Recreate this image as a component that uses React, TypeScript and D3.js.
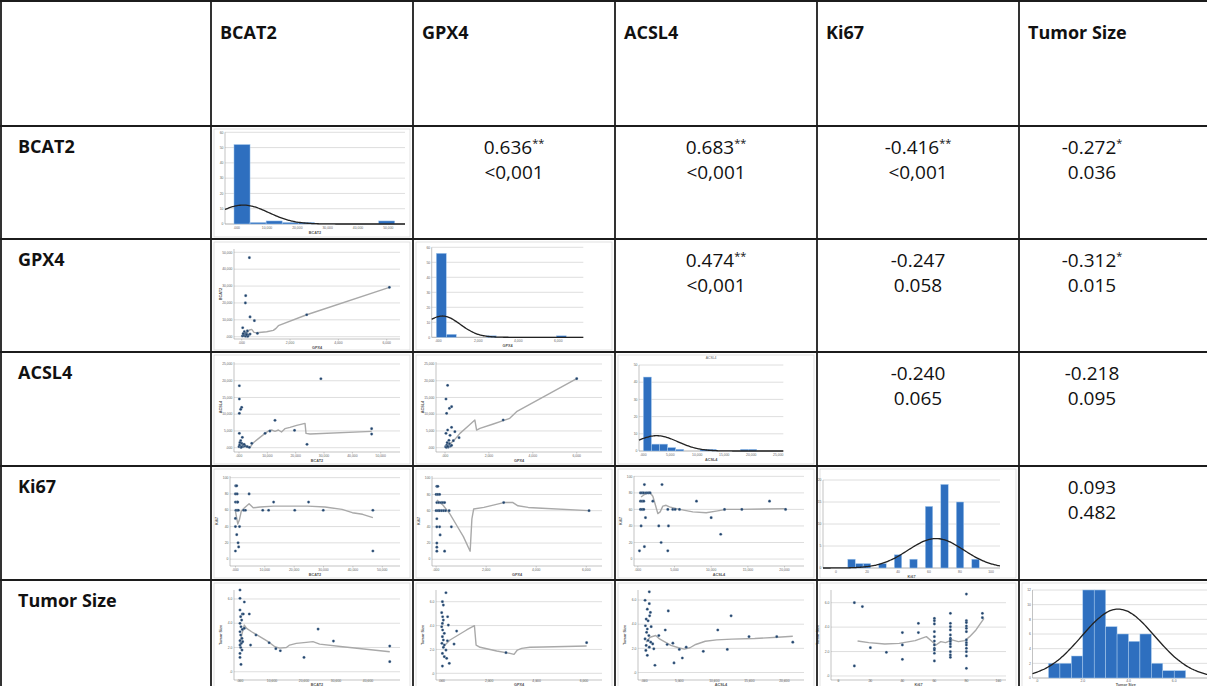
import React from "react";
import * as d3 from "d3";

type Pt = [number, number];

const W = 1207;
const H = 686;

// table grid
const colX = [1, 211, 413, 615, 817, 1019, 1221];
const rowY = [1, 126, 239, 352, 466, 580, 693];
const textCenterX = [106, 312, 514, 716, 918, 1092];

const variables = ["BCAT2", "GPX4", "ACSL4", "Ki67", "Tumor Size"];

// upper triangle: correlation coefficient and p value
const corrPairs: Pt[] = [[0, 1], [0, 2], [0, 3], [0, 4], [1, 2], [1, 3], [1, 4], [2, 3], [2, 4], [3, 4]];
const corrR = ["0.636", "0.683", "-0.416", "-0.272", "0.474", "-0.247", "-0.312", "-0.240", "-0.218", "0.093"];
const corrStars = ["**", "**", "**", "*", "**", "", "*", "", "", ""];
const corrP = ["<0,001", "<0,001", "<0,001", "0.036", "<0,001", "0.058", "0.015", "0.065", "0.095", "0.482"];

// ---- diagonal histograms ----
const bcat2Edges = [-900, 4400, 9700, 15000, 20300, 25600, 30900, 36200, 41500, 46800, 52100];
const bcat2Counts = [52, 1, 2, 1, 1, 0, 0, 0, 0, 2];
const bcat2Fit = { mean: 2200, sd: 8300, peak: 12.4 };

const gpx4Edges = [-100, 400, 900, 1400, 1900, 2400, 2900, 3400, 3900, 4400, 4900, 5400, 5900, 6400];
const gpx4Counts = [56, 2, 0, 0, 0, 1, 0, 0, 0, 0, 0, 0, 1];
const gpx4Fit = { mean: 200, sd: 900, peak: 14.2 };

const acsl4Edges = [0, 1500, 3000, 4500, 6000, 7500, 9000, 10500, 12000, 13500, 15000, 16500, 18000, 19500, 21000];
const acsl4Counts = [43, 4, 4, 2, 1, 0, 0, 1, 1, 0, 0, 0, 1, 1];
const acsl4Fit = { mean: 2470, sd: 3930, peak: 8.9 };

const ki67Values = [10, 15, 20, 30, 40, 50, 60, 70, 80, 90];
const ki67Counts = [2, 1, 1, 1, 3, 2, 14, 19, 15, 2];
const ki67Fit = { mean: 64.5, sd: 18, peak: 6.7 };

const tumorEdges = [0.5, 1, 1.5, 2, 2.5, 3, 3.5, 4, 4.5, 5, 5.5, 6, 6.5];
const tumorCounts = [2, 2, 3, 12, 12, 7, 6, 5, 6, 2, 1, 1];
const tumorFit = { mean: 3.55, sd: 1.6, peak: 9.4 };

// ---- scatter plots: [x, y] ----
const gpx4Bcat2Pts: Pt[] = [[317, 46800], [165, 24300], [152, 20000], [345, 11700], [524, 9500], [41, 5300], [110, 3000], [180, 2000], [235, 3400], [69, 990], [138, 1380], [207, 590], [276, 990], [345, 1580], [28, 400], [97, 590], [160, 300], [250, 200], [60, 1800], [200, 1200], [650, 2000], [2690, 13000], [6110, 29250]];
const gpx4Bcat2Fit: Pt[] = [[179, 1380], [317, 3950], [414, 4350], [510, 2570], [620, 2370], [1034, 2960], [1310, 3750], [1420, 4940], [1517, 6520], [2690, 13000], [6110, 29250]];

const bcat2Acsl4Pts: Pt[] = [[120, 18500], [120, 14540], [940, 12050], [590, 11450], [120, 10260], [12700, 8170], [120, 4280], [1180, 3090], [590, 2090], [940, 1300], [1530, 800], [350, 500], [0, 300], [700, 100], [1300, 300], [2100, 500], [2900, 300], [3650, 100], [4500, 1300], [9200, 4280], [10900, 4980], [19600, 5180], [28900, 20600], [24000, 1000], [46800, 5680], [46800, 4080], [300, 1500], [800, 200], [1800, 1000], [200, 800]];
const bcat2Acsl4Fit: Pt[] = [[120, 300], [1530, 1100], [2900, 500], [3900, 100], [5060, 1500], [7400, 3090], [9200, 4280], [10350, 4980], [11500, 5280], [12700, 4880], [13900, 5280], [15000, 4680], [16200, 5680], [18000, 6080], [20350, 6670], [23300, 7270], [23650, 4280], [25050, 4080], [46800, 4880]];

const gpx4Acsl4Pts: Pt[] = [[120, 18620], [45, 14540], [300, 12250], [200, 11750], [75, 10260], [300, 6080], [450, 4780], [120, 5280], [45, 4280], [230, 3690], [640, 2990], [380, 2090], [30, 300], [80, 800], [150, 200], [200, 1200], [250, 500], [100, 1500], [60, 100], [180, 2200], [300, 700], [120, 400], [2650, 8270], [6000, 20620]];
const gpx4Acsl4Fit: Pt[] = [[45, 300], [230, 1100], [450, 2490], [680, 4280], [1060, 6470], [1360, 8270], [1440, 5280], [1590, 5780], [2200, 7070], [2650, 8070], [2950, 8760], [3260, 10760], [6000, 20620]];

const bcat2Ki67Pts: Pt[] = [[100, 90], [450, 90], [0, 80], [580, 80], [0, 70], [580, 70], [800, 70], [150, 60], [600, 60], [1000, 60], [0, 50], [0, 40], [450, 30], [900, 20], [1100, 15], [0, 10], [1400, 40], [2800, 60], [3400, 60], [4650, 80], [9300, 60], [11300, 60], [13000, 70], [20200, 60], [24900, 70], [29900, 60], [46800, 60], [46800, 10]];
const bcat2Ki67Fit: Pt[] = [[0, 59], [810, 43], [1400, 49], [2000, 59], [3100, 63], [4650, 68], [6050, 63], [8400, 64], [13000, 65], [24650, 65], [30500, 64], [36300, 61], [39800, 57], [43300, 55], [46800, 51]];

const gpx4Ki67Pts: Pt[] = [[30, 90], [70, 90], [0, 80], [70, 80], [140, 80], [30, 70], [110, 70], [200, 70], [270, 70], [340, 70], [0, 60], [80, 60], [140, 60], [220, 60], [300, 60], [380, 60], [520, 60], [30, 50], [30, 40], [140, 40], [610, 40], [160, 30], [30, 20], [30, 15], [30, 10], [340, 10], [2700, 70], [6110, 60]];
const gpx4Ki67Fit: Pt[] = [[30, 73], [270, 67], [550, 56], [820, 42], [1090, 28], [1360, 10], [1430, 50], [1500, 62], [1910, 64], [2700, 70], [3070, 70], [3270, 66], [3680, 64], [4230, 63], [6110, 60]];

const acsl4Ki67Pts: Pt[] = [[900, 90], [3300, 90], [360, 80], [590, 80], [820, 80], [1140, 80], [1410, 80], [1680, 80], [360, 70], [590, 70], [820, 70], [2050, 70], [360, 60], [590, 60], [820, 60], [1050, 50], [450, 40], [2860, 40], [4180, 40], [3180, 20], [900, 15], [230, 10], [4090, 10], [4090, 60], [4770, 60], [5090, 60], [5680, 60], [8000, 70], [10000, 50], [11300, 30], [11820, 60], [14180, 60], [17950, 70], [20140, 60]];
const acsl4Ki67Fit: Pt[] = [[450, 75], [900, 78], [1590, 81], [2050, 76], [2410, 65], [2730, 55], [3050, 57], [3410, 64], [3860, 65], [4320, 63], [5680, 60], [7500, 57], [9320, 56], [10680, 58], [12050, 60], [13860, 60], [20140, 61]];

const bcat2TumorPts: Pt[] = [[0, 6.74], [0, 6.05], [1350, 5.75], [730, 4.76], [1040, 4.76], [2900, 4.76], [0, 5.09], [200, 4.54], [520, 4.26], [0, 3.99], [310, 3.71], [730, 3.49], [0, 3.3], [210, 3.03], [620, 2.75], [0, 2.56], [410, 2.34], [830, 2.48], [0, 2.2], [210, 2.0], [620, 1.79], [0, 1.51], [0, 1.18], [310, 0.6], [1350, 3.58], [5000, 3.03], [3300, 2.2], [9100, 2.39], [11200, 1.9], [12600, 1.73], [20000, 1.18], [24400, 3.52], [29200, 2.53], [46800, 2.12], [46800, 0.83]];
const bcat2TumorFit: Pt[] = [[0, 2.34], [520, 3.03], [1350, 3.85], [2070, 3.58], [3630, 3.3], [6200, 2.89], [8800, 2.48], [10900, 2.06], [12400, 1.95], [14500, 2.0], [15500, 2.2], [17600, 2.34], [20700, 2.42], [22800, 2.48], [24900, 2.28], [32100, 2.06], [46800, 1.65]];

const gpx4TumorPts: Pt[] = [[180, 6.75], [30, 6.0], [70, 5.72], [0, 5.08], [40, 4.74], [250, 4.74], [70, 4.46], [30, 4.18], [280, 4.04], [0, 3.9], [40, 3.63], [630, 3.54], [110, 3.35], [30, 3.07], [70, 2.79], [240, 2.73], [10, 2.51], [110, 2.37], [70, 2.18], [180, 1.95], [30, 1.67], [110, 1.39], [210, 1.26], [320, 0.84], [30, 0.61], [520, 2.45], [2710, 1.73], [6110, 2.57]];
const gpx4TumorFit: Pt[] = [[140, 2.37], [350, 2.79], [700, 3.21], [1050, 3.63], [1380, 3.99], [1450, 2.37], [1620, 2.18], [2320, 1.87], [2880, 1.67], [3050, 1.59], [3190, 1.95], [3370, 2.09], [3720, 2.18], [4280, 2.2], [6110, 2.29]];

const acsl4TumorPts: Pt[] = [[710, 6.68], [110, 5.98], [710, 5.7], [430, 5.24], [870, 4.97], [270, 4.42], [540, 4.28], [760, 4.69], [160, 3.87], [430, 3.6], [980, 3.79], [330, 3.33], [650, 3.06], [110, 2.78], [540, 2.65], [920, 2.51], [270, 2.24], [710, 2.1], [1200, 2.37], [220, 1.83], [430, 1.42], [1360, 1.96], [1520, 0.6], [2070, 3.06], [2990, 3.52], [3420, 5.1], [3260, 2.32], [4080, 2.43], [4240, 0.79], [5000, 1.91], [5430, 1.2], [5980, 2.1], [8420, 1.75], [10490, 3.52], [11850, 1.91], [12390, 4.69], [14950, 2.97], [18910, 2.97], [21200, 2.51]];
const acsl4TumorFit: Pt[] = [[270, 2.51], [820, 2.92], [1630, 3.06], [2170, 2.78], [2990, 2.51], [3800, 2.24], [4890, 2.05], [5710, 1.94], [6520, 2.05], [7340, 2.32], [8700, 2.59], [10330, 2.7], [12500, 2.76], [15760, 2.81], [19020, 2.92], [21200, 3.0]];

const ki67TumorPts: Pt[] = [[10, 6.0], [15, 5.68], [20, 2.32], [10, 0.82], [30, 1.94], [40, 3.55], [40, 2.54], [40, 1.36], [50, 4.31], [50, 3.55],
  [60, 4.72], [60, 4.53], [60, 4.26], [60, 3.63], [60, 3.22], [60, 2.86], [60, 2.54], [60, 2.26], [60, 2.13], [60, 1.86], [60, 1.23],
  [70, 5.13], [70, 4.31], [70, 4.04], [70, 3.77], [70, 3.36], [70, 3.08], [70, 2.95], [70, 2.81], [70, 2.62], [70, 2.4], [70, 1.99], [70, 1.72], [70, 1.53],
  [80, 6.71], [80, 4.53], [80, 4.37], [80, 4.09], [80, 3.9], [80, 3.63], [80, 2.95], [80, 2.73], [80, 2.54], [80, 2.26], [80, 1.99], [80, 1.64], [80, 0.63],
  [90, 5.13], [90, 4.77]];
const ki67TumorFit: Pt[] = [[12, 2.86], [19, 2.73], [29, 2.62], [38, 2.67], [48, 2.89], [55, 3.22], [58, 2.89], [61, 2.54], [64, 2.81], [67, 2.73], [71, 2.95], [75, 2.81], [79, 2.89], [82, 3.22], [86, 3.77], [91, 4.72]];

// tick values
const bcat2Ticks = [0, 10000, 20000, 30000, 40000, 50000];
const gpx4Ticks = [0, 2000, 4000, 6000];
const acsl4Ticks = [0, 5000, 10000, 15000, 20000, 25000];
const ki67Ticks = [0, 20, 40, 60, 80, 100];
const tumorTicks = [0, 2, 4, 6];

const fmtBig = (d: number) => (d === 0 ? ".000" : d3.format(",")(d));
const fmtInt = (d: number) => String(d);
const fmtDec = (d: number) => (d === 0 ? ".0" : d.toFixed(1));

const edgesToBins = (edges: number[], counts: number[]) =>
  counts.map((c, i) => ({ x0: edges[i], x1: edges[i + 1], n: c }));

const histSpecs = [
  { row: 1, col: 1, label: "BCAT2", bins: edgesToBins(bcat2Edges, bcat2Counts), fit: bcat2Fit, xDomain: [-3860, 55500], left: 14, right: 194, yZero: 98, yTop: 6.3, yTicks: [0, 10, 20, 30, 40, 50, 60], xTicks: bcat2Ticks, fmt: fmtBig, title: "" },
  { row: 2, col: 2, label: "GPX4", bins: edgesToBins(gpx4Edges, gpx4Counts), fit: gpx4Fit, xDomain: [-330, 7250], left: 18.7, right: 170.3, yZero: 98.3, yTop: 8.3, yTicks: [0, 10, 20, 30, 40, 50, 60], xTicks: gpx4Ticks, fmt: fmtBig, title: "" },
  { row: 3, col: 3, label: "ACSL4", bins: edgesToBins(acsl4Edges, acsl4Counts), fit: acsl4Fit, xDomain: [-800, 25930], left: 24, right: 168.3, yZero: 99, yTop: 13, yTicks: [0, 10, 20, 30, 40, 50], xTicks: acsl4Ticks, fmt: fmtBig, title: "ACSL4" },
  { row: 4, col: 4, label: "Ki67", bins: ki67Values.map((v, i) => ({ x0: v - 2.4, x1: v + 2.4, n: ki67Counts[i] })), fit: ki67Fit, xDomain: [-8.4, 105.8], left: 6, right: 183, yZero: 102, yTop: 14, yTicks: [0, 5, 10, 15, 20], xTicks: ki67Ticks, fmt: fmtInt, title: "" },
  { row: 5, col: 5, label: "Tumor Size", bins: edgesToBins(tumorEdges, tumorCounts), fit: tumorFit, xDomain: [-0.2, 7.96], left: 13.5, right: 200, yZero: 98, yTop: 10, yTicks: [0, 2, 4, 6, 8, 10, 12], xTicks: tumorTicks, fmt: fmtDec, title: "" },
];

const scatterSpecs = [
  { row: 2, col: 1, xLabel: "GPX4", yLabel: "BCAT2", pts: gpx4Bcat2Pts, fit: gpx4Bcat2Fit, xDomain: [-319, 6550], yDomain: [-1363, 51955], xTicks: gpx4Ticks, yTicks: bcat2Ticks, xFmt: fmtBig, yFmt: fmtBig, left: 23 },
  { row: 3, col: 1, xLabel: "BCAT2", yLabel: "ACSL4", pts: bcat2Acsl4Pts, fit: bcat2Acsl4Fit, xDomain: [-1764, 56810], yDomain: [-1284, 25597], xTicks: bcat2Ticks, yTicks: acsl4Ticks, xFmt: fmtBig, yFmt: fmtBig, left: 23 },
  { row: 3, col: 2, xLabel: "GPX4", yLabel: "ACSL4", pts: gpx4Acsl4Pts, fit: gpx4Acsl4Fit, xDomain: [-410, 7152], yDomain: [-1284, 25597], xTicks: gpx4Ticks, yTicks: acsl4Ticks, xFmt: fmtBig, yFmt: fmtBig, left: 23 },
  { row: 4, col: 1, xLabel: "BCAT2", yLabel: "Ki67", pts: bcat2Ki67Pts, fit: bcat2Ki67Fit, xDomain: [-1848, 56030], yDomain: [-8.4, 102], xTicks: bcat2Ticks, yTicks: ki67Ticks, xFmt: fmtBig, yFmt: fmtInt, left: 19 },
  { row: 4, col: 2, xLabel: "GPX4", yLabel: "Ki67", pts: gpx4Ki67Pts, fit: gpx4Ki67Fit, xDomain: [-164, 6628], yDomain: [-8.3, 102.8], xTicks: gpx4Ticks, yTicks: ki67Ticks, xFmt: fmtBig, yFmt: fmtInt, left: 19 },
  { row: 4, col: 3, xLabel: "ACSL4", yLabel: "Ki67", pts: acsl4Ki67Pts, fit: acsl4Ki67Fit, xDomain: [-516, 22650], yDomain: [-8.4, 100.4], xTicks: [0, 5000, 10000, 15000, 20000], yTicks: ki67Ticks, xFmt: fmtBig, yFmt: fmtInt, left: 19 },
  { row: 5, col: 1, xLabel: "BCAT2", yLabel: "Tumor Size", pts: bcat2TumorPts, fit: bcat2TumorFit, xDomain: [-1875, 50000], yDomain: [-0.68, 6.74], xTicks: [0, 10000, 20000, 30000, 40000], yTicks: tumorTicks, xFmt: fmtBig, yFmt: fmtDec, left: 23 },
  { row: 5, col: 2, xLabel: "GPX4", yLabel: "Tumor Size", pts: gpx4TumorPts, fit: gpx4TumorFit, xDomain: [-240, 6758], yDomain: [-0.56, 6.98], xTicks: gpx4Ticks, yTicks: tumorTicks, xFmt: fmtBig, yFmt: fmtDec, left: 23 },
  { row: 5, col: 3, xLabel: "ACSL4", yLabel: "Tumor Size", pts: acsl4TumorPts, fit: acsl4TumorFit, xDomain: [-900, 22800], yDomain: [-0.62, 6.83], xTicks: [0, 5000, 10000, 15000, 20000], yTicks: tumorTicks, xFmt: fmtBig, yFmt: fmtDec, left: 23 },
  { row: 5, col: 4, xLabel: "Ki67", yLabel: "Tumor Size", pts: ki67TumorPts, fit: ki67TumorFit, xDomain: [-4.6, 104.75], yDomain: [-0.33, 7.04], xTicks: [0, 20, 40, 60, 80, 100], yTicks: tumorTicks, xFmt: fmtInt, yFmt: fmtDec, left: 14 },
];

const tiny = { fontFamily: "'Liberation Sans', Arial, sans-serif", fontSize: 3.4, fill: "#666" };
const tinyBold = { ...tiny, fontWeight: 700 as const, fill: "#555", fontSize: 3.8 };

// the last row is cut by the picture edge: squeeze its axis texts inside it
const tickY = (row: number, base: number) => (row === 5 ? H - 3.6 : base);
const labelY = (row: number, base: number) => (row === 5 ? H - 0.3 : base);

function Frame({ row, col }: { row: number; col: number }) {
  const x0 = colX[col], y0 = rowY[row];
  return (
    <rect x={x0 + 3} y={y0 + 3} width={colX[col + 1] - x0 - 6} height={rowY[row + 1] - y0 - 5}
      fill="#fff" stroke="#d4d4d4" strokeWidth={0.7} />
  );
}

function Scatter({ s }: { s: typeof scatterSpecs[number] }) {
  const cx = colX[s.col], cy = rowY[s.row];
  const right = cx + 189;
  const x = d3.scaleLinear().domain(s.xDomain).range([cx + s.left, right]);
  const y = d3.scaleLinear().domain(s.yDomain).range([cy + 100, cy + 10]);
  const line = d3.line<Pt>().x((d) => x(d[0])).y((d) => y(d[1]));
  return (
    <g>
      <Frame row={s.row} col={s.col} />
      {s.yTicks.map((t) => (
        <g key={t}>
          <line x1={cx + s.left} x2={right} y1={y(t)} y2={y(t)} stroke="#d6d6d6" strokeWidth={0.8} />
          <text x={cx + s.left - 1.5} y={y(t) + 1.2} textAnchor="end" style={tiny}>{s.yFmt(t)}</text>
        </g>
      ))}
      <line x1={cx + s.left} x2={cx + s.left} y1={cy + 10} y2={cy + 100} stroke="#9a9a9a" strokeWidth={0.6} />
      <line x1={cx + s.left} x2={right} y1={cy + 100} y2={cy + 100} stroke="#9a9a9a" strokeWidth={0.6} />
      {s.xTicks.map((t) => (
        <g key={t}>
          <line x1={x(t)} x2={x(t)} y1={cy + 100} y2={cy + 101.5} stroke="#9a9a9a" strokeWidth={0.5} />
          <text x={x(t)} y={tickY(s.row, cy + 104.5)} textAnchor="middle" style={tiny}>{s.xFmt(t)}</text>
        </g>
      ))}
      <text x={(cx + s.left + right) / 2} y={labelY(s.row, cy + 110)} textAnchor="middle" style={tinyBold}>{s.xLabel}</text>
      <text transform={`translate(${cx + s.left - 12},${cy + 55}) rotate(-90)`} textAnchor="middle" style={tinyBold}>{s.yLabel}</text>
      <path d={line(s.fit) || ""} fill="none" stroke="#a9a9a9" strokeWidth={1.4} strokeLinejoin="round" />
      {s.pts.map((p, i) => (
        <circle key={i} cx={x(p[0])} cy={y(p[1])} r={1.35} fill="#22446c" stroke="#9fb3c8" strokeWidth={0.3} />
      ))}
    </g>
  );
}

function Hist({ h }: { h: typeof histSpecs[number] }) {
  const cx = colX[h.col], cy = rowY[h.row];
  const x = d3.scaleLinear().domain(h.xDomain).range([cx + h.left, cx + h.right]);
  const yMax = h.yTicks[h.yTicks.length - 1];
  const y = d3.scaleLinear().domain([0, yMax]).range([cy + h.yZero, cy + h.yTop]);
  const samples = d3.range(0, 121).map((i) => h.xDomain[0] + ((h.xDomain[1] - h.xDomain[0]) * i) / 120);
  const curve = d3
    .line<number>()
    .x((v) => x(v))
    .y((v) => y(h.fit.peak * Math.exp(-0.5 * ((v - h.fit.mean) / h.fit.sd) ** 2)))
    .curve(d3.curveBasis);
  return (
    <g>
      <Frame row={h.row} col={h.col} />
      {h.yTicks.map((t) => (
        <g key={t}>
          <line x1={cx + h.left} x2={cx + h.right} y1={y(t)} y2={y(t)} stroke={t === 0 ? "#9a9a9a" : "#d6d6d6"} strokeWidth={0.8} />
          <text x={cx + h.left - 1.5} y={y(t) + 1.2} textAnchor="end" style={tiny}>{t}</text>
        </g>
      ))}
      <line x1={cx + h.left} x2={cx + h.left} y1={cy + h.yTop} y2={cy + h.yZero} stroke="#9a9a9a" strokeWidth={0.6} />
      {h.bins.filter((b) => b.n > 0).map((b, i) => (
        <rect key={i} x={x(b.x0)} y={y(b.n)} width={x(b.x1) - x(b.x0)} height={y(0) - y(b.n)}
          fill="#2e6fbf" stroke="#a9cbee" strokeWidth={0.5} />
      ))}
      <path d={curve(samples) || ""} fill="none" stroke="#222" strokeWidth={1.3} />
      {h.xTicks.map((t) => (
        <text key={t} x={x(t)} y={tickY(h.row, cy + h.yZero + 4.5)} textAnchor="middle" style={tiny}>{h.fmt(t)}</text>
      ))}
      <text x={(cx + h.left + cx + h.right) / 2} y={labelY(h.row, cy + h.yZero + 9.5)} textAnchor="middle" style={tinyBold}>{h.label}</text>
      {h.title && (
        <text x={(cx + h.left + cx + h.right) / 2} y={cy + 6.5} textAnchor="middle" style={tiny}>{h.title}</text>
      )}
    </g>
  );
}

export default function App() {
  const font = "'Open Sans', 'Liberation Sans', sans-serif";
  return (
    <svg width={W} height={H} style={{ position: "absolute", left: 0, top: 0, background: "#fff" }}>
      <rect width={W} height={H} fill="#fff" />
      {scatterSpecs.map((s, i) => <Scatter key={i} s={s} />)}
      {histSpecs.map((h, i) => <Hist key={i} h={h} />)}

      {/* header row */}
      {variables.map((v, i) => (
        <text key={v} x={colX[i + 1] + 9} y={38.5} fontFamily={font} fontWeight={700} fontSize={18} fill="#111">{v}</text>
      ))}
      {/* row labels */}
      {variables.map((v, i) => (
        <text key={v} x={18} y={rowY[i + 1] + 26.5} fontFamily={font} fontWeight={700} fontSize={18} fill="#111">{v}</text>
      ))}

      {/* correlation cells */}
      {corrPairs.map(([r, c], i) => {
        const cxm = textCenterX[c + 1];
        const top = rowY[r + 1];
        return (
          <g key={i} fontFamily={font} fontSize={19} fill="#111">
            <text x={cxm} y={top + 28} textAnchor="middle">
              {corrR[i]}
              {corrStars[i] && <tspan fontSize={11} dy={-7}>{corrStars[i]}</tspan>}
            </text>
            <text x={cxm} y={top + 53} textAnchor="middle">{corrP[i]}</text>
          </g>
        );
      })}

      {/* table lines */}
      {colX.slice(0, 6).map((x, i) => (
        <line key={"c" + i} x1={x} x2={x} y1={0} y2={H} stroke="#1c1c1c" strokeWidth={1.8} />
      ))}
      {rowY.slice(0, 6).map((y, i) => (
        <line key={"r" + i} x1={0} x2={W} y1={y} y2={y} stroke="#1c1c1c" strokeWidth={1.8} />
      ))}
    </svg>
  );
}
